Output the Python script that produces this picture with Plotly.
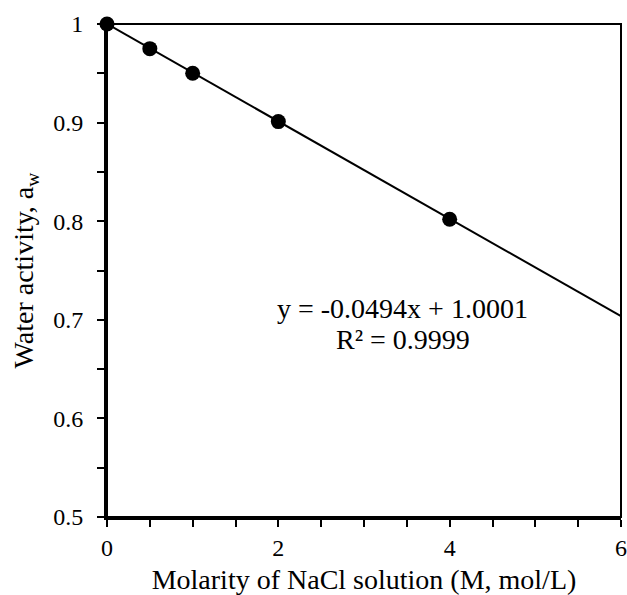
import plotly.graph_objects as go

# Data
molarity = [0, 0.5, 1, 2, 4]
water_activity = [1.0, 0.975, 0.95, 0.901, 0.802]
slope = -0.0494
intercept = 1.0001
r2 = 0.9999
x_range = [0, 6]
y_range = [0.5, 1.0]
x_tickvals = [0, 2, 4, 6]
x_ticktext = ["0", "2", "4", "6"]
y_tickvals = [0.5, 0.6, 0.7, 0.8, 0.9, 1.0]
y_ticktext = ["0.5", "0.6", "0.7", "0.8", "0.9", "1"]

trend_x = x_range
trend_y = [slope * x + intercept for x in trend_x]

FONT = "Liberation Serif, Times New Roman, serif"
TICK_SIZE = 24
TITLE_SIZE = 28

fig = go.Figure()
fig.add_trace(go.Scatter(x=trend_x, y=trend_y, mode="lines",
                         line=dict(color="black", width=2), showlegend=False,
                         cliponaxis=False))
fig.add_trace(go.Scatter(x=molarity, y=water_activity, mode="markers",
                         marker=dict(color="black", size=15), showlegend=False,
                         cliponaxis=False))

fig.add_annotation(x=3.45, y=0.711, xref="x", yref="y",
                   text=f"y = {slope}x + {intercept:.4f}",
                   showarrow=False, align="center",
                   font=dict(family=FONT, size=TITLE_SIZE, color="black"))
fig.add_annotation(x=3.45, y=0.680, xref="x", yref="y",
                   text=f"R² = {r2}",
                   showarrow=False, align="center",
                   font=dict(family=FONT, size=TITLE_SIZE, color="black"))

fig.add_shape(type="rect", xref="paper", yref="paper", x0=0, y0=0, x1=1, y1=1,
              line=dict(color="black", width=2), layer="above")

axis_common = dict(showgrid=False, zeroline=False, showline=True,
                   linecolor="black", linewidth=3, ticks="outside",
                   ticklen=7, tickwidth=2, tickcolor="black", automargin=False,
                   tickfont=dict(family=FONT, size=TICK_SIZE, color="black"))

fig.update_xaxes(range=x_range, tickvals=x_tickvals, ticktext=x_ticktext,
                 ticklabelstandoff=0,
                 minor=dict(dtick=0.5, ticks="outside", ticklen=7, tickwidth=2,
                            tickcolor="black"),
                 title=dict(text="Molarity of NaCl solution (M, mol/L)",
                            font=dict(family=FONT, size=TITLE_SIZE, color="black"),
                            standoff=14),
                 **axis_common)
fig.update_yaxes(range=y_range, tickvals=y_tickvals, ticktext=y_ticktext,
                 ticklabelstandoff=9,
                 minor=dict(dtick=0.05, ticks="outside", ticklen=7, tickwidth=2,
                            tickcolor="black"),
                 title=dict(text="Water activity, a<sub>w</sub>",
                            font=dict(family=FONT, size=TITLE_SIZE, color="black"),
                            standoff=12),
                 **axis_common)

fig.update_layout(width=627, height=595,
                  margin=dict(l=107, r=6, t=24, b=78),
                  paper_bgcolor="white", plot_bgcolor="white",
                  font=dict(family=FONT, color="black"))

fig.write_html("out.html", config={"displayModeBar": False},
               post_script="document.body.style.margin='0';document.body.style.overflow='hidden';")
